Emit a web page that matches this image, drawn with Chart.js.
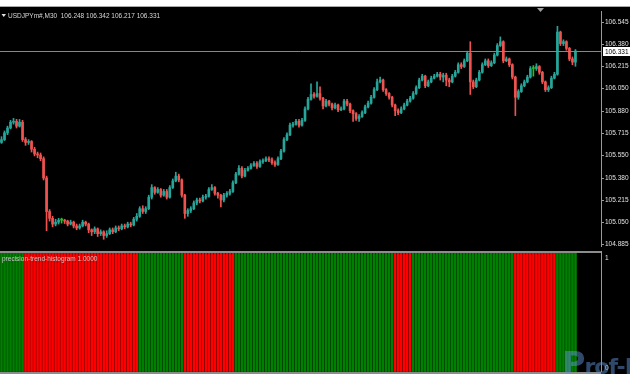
<!DOCTYPE html>
<html>
<head>
<meta charset="utf-8">
<script src="https://cdn.jsdelivr.net/npm/chart.js@4.4.1/dist/chart.umd.min.js"></script>
<style>
  html, body { margin: 0; padding: 0; background: #fff; width: 630px; height: 380px; overflow: hidden; }
  #frame { position: absolute; left: 0; top: 6px; width: 630px; height: 367px; background: #000; border-top: 1px solid #a8a8a8; }
  canvas { position: absolute; left: 0; }
  #priceChart { top: 7px; }
  #histChart { top: 253px; }
  .sep { position: absolute; left: 0; width: 601px; height: 2px; background: #8c8c8c; }
  #axisTail { position: absolute; left: 601px; top: 251px; width: 1px; height: 23px; background: #9a9a9a; }
  #logo { position: absolute; left: 562px; top: 344px; color: rgba(95, 145, 210, 0.5); font: bold 22px "DejaVu Sans", sans-serif; white-space: nowrap; pointer-events: none; letter-spacing: -1px; }
  #logo span { font-size: 32px; }
</style>
</head>
<body>
<div id="frame"></div>
<canvas id="priceChart" width="630" height="244"></canvas>
<div class="sep" style="top:251px"></div>
<canvas id="histChart" width="630" height="119"></canvas>
<div class="sep" style="top:372px"></div>
<div id="axisTail"></div>
<div id="logo"><span>P</span>rof-FX</div>
<script>
const symbol = "USDJPYm#,M30";
const indicatorName = "precision-trend-histogram 1.0000";

// M30 candles, oldest first
const opens = [
  105.647,105.668,105.719,105.755,105.798,105.805,105.769,105.798,105.668,105.647,105.654,105.596,
  105.561,105.553,105.525,105.381,105.130,105.079,105.036,105.050,105.065,105.065,105.058,105.036,
  105.050,105.022,105.007,105.022,105.050,105.036,104.993,104.978,105.000,104.964,104.978,104.950,
  104.964,104.993,104.978,105.007,105.000,105.022,105.015,105.036,105.029,105.072,105.094,105.151,
  105.130,105.151,105.237,105.309,105.273,105.295,105.252,105.280,105.237,105.309,105.359,105.395,
  105.367,105.252,105.115,105.137,105.151,105.194,105.216,105.209,105.237,105.244,105.295,105.309,
  105.266,105.252,105.216,105.252,105.266,105.280,105.345,105.410,105.453,105.395,105.438,105.453,
  105.474,105.489,105.467,105.503,105.510,105.525,105.517,105.496,105.482,105.525,105.582,105.668,
  105.704,105.776,105.783,105.805,105.776,105.812,105.898,105.970,106.006,105.992,106.013,105.978,
  105.920,105.956,105.934,105.906,105.927,105.891,105.898,105.956,105.934,105.884,105.862,105.826,
  105.841,105.870,105.913,105.941,105.985,106.042,106.100,106.114,106.042,106.013,105.985,105.927,
  105.884,105.870,105.898,105.927,105.956,105.978,106.013,106.057,106.114,106.143,106.071,106.100,
  106.128,106.143,106.157,106.136,106.150,106.114,106.100,106.143,106.172,106.229,106.215,106.258,
  106.315,106.100,106.064,106.114,106.172,106.229,106.258,106.222,106.243,106.301,106.372,106.401,
  106.258,106.272,106.229,106.136,105.985,106.028,106.071,106.100,106.136,106.200,106.200,106.215,
  106.172,106.100,106.042,106.057,106.128,106.157,106.473,106.387,106.401,106.351,106.272,106.248
];
const highs = [
  105.690,105.733,105.769,105.812,105.827,105.820,105.819,105.812,105.683,105.668,105.661,105.611,
  105.575,105.568,105.539,105.395,105.144,105.094,105.072,105.079,105.080,105.072,105.065,105.065,
  105.058,105.036,105.036,105.065,105.058,105.043,105.000,105.015,105.007,104.993,104.986,104.986,
  105.007,105.007,105.022,105.022,105.036,105.036,105.050,105.050,105.086,105.115,105.166,105.173,
  105.166,105.252,105.331,105.316,105.309,105.302,105.295,105.295,105.324,105.374,105.424,105.410,
  105.374,105.259,105.151,105.166,105.209,105.230,105.230,105.252,105.259,105.309,105.331,105.316,
  105.273,105.259,105.266,105.280,105.295,105.359,105.424,105.474,105.467,105.453,105.467,105.489,
  105.503,105.503,105.517,105.525,105.539,105.539,105.532,105.510,105.539,105.596,105.683,105.719,
  105.791,105.798,105.820,105.820,105.827,105.913,105.985,106.085,106.021,106.100,106.064,105.985,
  105.970,105.963,105.941,105.941,105.934,105.913,105.970,105.970,105.941,105.891,105.870,105.855,
  105.884,105.927,105.956,106.000,106.057,106.122,106.136,106.122,106.050,106.021,105.992,105.934,
  105.898,105.913,105.941,105.970,105.992,106.028,106.071,106.128,106.157,106.150,106.114,106.143,
  106.157,106.172,106.172,106.165,106.165,106.128,106.157,106.186,106.243,106.243,106.272,106.330,
  106.401,106.114,106.128,106.186,106.243,106.272,106.272,106.258,106.315,106.387,106.437,106.408,
  106.287,106.279,106.236,106.143,106.042,106.086,106.114,106.150,106.215,106.222,106.236,106.222,
  106.179,106.107,106.071,106.143,106.172,106.516,106.480,106.415,106.408,106.358,106.287,106.342
];
const lows = [
  105.640,105.661,105.705,105.748,105.784,105.755,105.762,105.654,105.625,105.632,105.575,105.546,
  105.532,105.510,105.366,104.986,105.058,105.015,105.022,105.036,105.043,105.040,105.022,105.029,
  105.007,104.993,104.998,105.015,105.022,104.971,104.950,104.964,104.943,104.950,104.922,104.936,
  104.957,104.964,104.971,104.986,104.993,105.000,105.007,105.015,105.022,105.058,105.086,105.115,
  105.115,105.144,105.223,105.259,105.266,105.237,105.244,105.223,105.230,105.302,105.352,105.352,
  105.237,105.079,105.094,105.122,105.144,105.180,105.194,105.202,105.223,105.237,105.288,105.252,
  105.230,105.165,105.202,105.237,105.252,105.273,105.338,105.402,105.381,105.388,105.431,105.446,
  105.467,105.453,105.460,105.489,105.503,105.503,105.482,105.467,105.474,105.517,105.575,105.661,
  105.697,105.762,105.776,105.762,105.769,105.805,105.891,105.963,105.978,105.985,105.963,105.898,
  105.913,105.920,105.891,105.898,105.877,105.884,105.891,105.920,105.870,105.805,105.812,105.805,
  105.834,105.862,105.906,105.934,105.978,106.035,106.093,106.028,105.999,105.970,105.913,105.848,
  105.855,105.862,105.891,105.920,105.948,105.970,106.006,106.050,106.107,106.057,106.064,106.093,
  106.122,106.136,106.114,106.100,106.071,106.064,106.093,106.136,106.165,106.200,106.208,106.251,
  106.006,106.050,106.057,106.107,106.165,106.222,106.208,106.215,106.236,106.294,106.365,106.243,
  106.251,106.215,106.122,105.848,105.970,106.021,106.064,106.093,106.128,106.143,106.186,106.157,
  106.086,106.028,106.028,106.050,106.122,106.150,106.372,106.372,106.337,106.258,106.229,106.217
];
const closes = [
  105.668,105.719,105.755,105.798,105.805,105.769,105.798,105.668,105.647,105.654,105.596,105.561,
  105.553,105.525,105.381,105.130,105.079,105.036,105.050,105.065,105.065,105.058,105.036,105.050,
  105.022,105.007,105.022,105.050,105.036,104.993,104.978,105.000,104.964,104.978,104.950,104.964,
  104.993,104.978,105.007,105.000,105.022,105.015,105.036,105.029,105.072,105.094,105.151,105.130,
  105.151,105.237,105.309,105.273,105.295,105.252,105.280,105.237,105.309,105.359,105.395,105.367,
  105.252,105.115,105.137,105.151,105.194,105.216,105.209,105.237,105.244,105.295,105.309,105.266,
  105.252,105.216,105.252,105.266,105.280,105.345,105.410,105.453,105.395,105.438,105.453,105.474,
  105.489,105.467,105.503,105.510,105.525,105.517,105.496,105.482,105.525,105.582,105.668,105.704,
  105.776,105.783,105.805,105.776,105.812,105.898,105.970,106.006,105.992,106.013,105.978,105.920,
  105.956,105.934,105.906,105.927,105.891,105.898,105.956,105.934,105.884,105.862,105.826,105.841,
  105.870,105.913,105.941,105.985,106.042,106.100,106.114,106.042,106.013,105.985,105.927,105.884,
  105.870,105.898,105.927,105.956,105.978,106.013,106.057,106.114,106.143,106.071,106.100,106.128,
  106.143,106.157,106.136,106.150,106.114,106.100,106.143,106.172,106.229,106.215,106.258,106.315,
  106.100,106.064,106.114,106.172,106.229,106.258,106.222,106.243,106.301,106.372,106.401,106.258,
  106.272,106.229,106.136,105.985,106.028,106.071,106.100,106.136,106.200,106.200,106.215,106.172,
  106.100,106.042,106.057,106.128,106.157,106.473,106.387,106.401,106.351,106.272,106.248,106.331
];

// indicator state per bar: 1 = up (green), 0 = down (red)
const trendUp = [
  1,1,1,1,1,1,1,1,0,0,0,0, 0,0,0,0,0,0,0,0,0,0,0,0, 0,0,0,0,0,0,0,0,0,0,0,0,
  0,0,0,0,0,0,0,0,0,0,1,1, 1,1,1,1,1,1,1,1,1,1,1,1, 1,0,0,0,0,0,0,0,0,0,0,0,
  0,0,0,0,0,0,1,1,1,1,1,1, 1,1,1,1,1,1,1,1,1,1,1,1, 1,1,1,1,1,1,1,1,1,1,1,1,
  1,1,1,1,1,1,1,1,1,1,1,1, 1,1,1,1,1,1,1,1,1,1,1,0, 0,0,0,0,0,1,1,1,1,1,1,1,
  1,1,1,1,1,1,1,1,1,1,1,1, 1,1,1,1,1,1,1,1,1,1,1,1, 1,1,1,0,0,0,0,0,0,0,0,0,
  0,0,0,0,0,1,1,1,1,1,1,1
];

const priceTicks = [106.545, 106.380, 106.215, 106.050, 105.880, 105.715, 105.550, 105.380, 105.215, 105.050, 104.885];
const priceMin = 104.871;
const priceMax = 106.624;
const barSlots = 200; // includes the empty shift area on the right

const slotLabels = Array.from({ length: barSlots }, (_, i) => i);
const fontFamily = '"Liberation Sans", Arial, sans-serif';
const smallFont = '6.5px ' + fontFamily;

const candleColor = closes.map((c, i) =>
  c > opens[i] ? "#26a69a" : c < opens[i] ? "#ef5350" : "#22c322"
);

const mtOverlay = {
  id: "mtOverlay",
  afterDatasetsDraw(chart) {
    const { ctx, chartArea, scales } = chart;
    const last = closes.length - 1;
    const y = Math.round(scales.y.getPixelForValue(closes[last])) + 0.5;
    ctx.save();
    // last price line + label
    ctx.strokeStyle = "#7c8a98";
    ctx.lineWidth = 1;
    ctx.beginPath();
    ctx.moveTo(chartArea.left, y);
    ctx.lineTo(chartArea.right, y);
    ctx.stroke();
    ctx.fillStyle = "#ffffff";
    ctx.fillRect(chartArea.right + 2, y - 4.5, 28, 9);
    ctx.fillStyle = "#000";
    ctx.font = smallFont;
    ctx.textBaseline = "middle";
    ctx.fillText(closes[last].toFixed(3), chartArea.right + 4, y + 0.5);
    // header
    ctx.fillStyle = "#e0e0e0";
    ctx.beginPath();
    ctx.moveTo(1.5, 7); ctx.lineTo(6, 7); ctx.lineTo(3.75, 10); ctx.closePath();
    ctx.fill();
    const ohlc = [opens[last], highs[last], lows[last], closes[last]].map(v => v.toFixed(3)).join(" ");
    ctx.fillStyle = "#d8d8d8";
    ctx.fillText(symbol + "  " + ohlc, 8, 9);
    // chart shift marker
    ctx.fillStyle = "#a0a0a0";
    ctx.beginPath();
    ctx.moveTo(537, 1); ctx.lineTo(544, 1); ctx.lineTo(540.5, 5); ctx.closePath();
    ctx.fill();
    ctx.restore();
  }
};

new Chart(document.getElementById("priceChart"), {
  type: "bar",
  data: {
    labels: slotLabels,
    datasets: [
      {
        label: "wick",
        data: lows.map((l, i) => [l, highs[i]]),
        backgroundColor: candleColor,
        barThickness: 1,
        grouped: false,
        order: 2
      },
      {
        label: "body",
        data: opens.map((o, i) => [o, closes[i]]),
        backgroundColor: candleColor,
        barThickness: 2,
        minBarLength: 1,
        grouped: false,
        order: 1
      }
    ]
  },
  options: {
    responsive: false,
    animation: false,
    devicePixelRatio: 1,
    layout: { padding: 0 },
    plugins: { legend: { display: false }, tooltip: { enabled: false } },
    scales: {
      x: { display: false },
      y: {
        position: "right",
        min: priceMin,
        max: priceMax,
        afterBuildTicks: (scale) => { scale.ticks = priceTicks.map(v => ({ value: v })); },
        afterFit: (scale) => { scale.width = 29; },
        grid: { drawOnChartArea: false, drawTicks: true, tickLength: 3, color: "#9a9a9a" },
        border: { display: true, color: "#9a9a9a" },
        ticks: {
          color: "#e0e0e0",
          padding: 1,
          font: { family: fontFamily, size: 6.5 },
          callback: (v) => Number(v).toFixed(3)
        }
      }
    }
  },
  plugins: [mtOverlay]
});

const histOverlay = {
  id: "histOverlay",
  afterDraw(chart) {
    const { ctx, chartArea, scales } = chart;
    ctx.save();
    ctx.font = smallFont;
    ctx.textBaseline = "middle";
    ctx.fillStyle = "#c8c8c8";
    ctx.fillText(indicatorName, 2, 6);
    ctx.fillStyle = "#e0e0e0";
    ctx.fillText("1", chartArea.right + 4, scales.y.getPixelForValue(1) + 5);
    ctx.fillText("0", chartArea.right + 4, scales.y.getPixelForValue(0) - 4);
    ctx.restore();
  }
};

new Chart(document.getElementById("histChart"), {
  type: "bar",
  data: {
    labels: slotLabels,
    datasets: [
      {
        label: "up",
        data: trendUp.map(t => (t ? 1 : 0)),
        backgroundColor: "#008000",
        barThickness: 2,
        grouped: false
      },
      {
        label: "down",
        data: trendUp.map(t => (t ? 0 : 1)),
        backgroundColor: "#ff0000",
        barThickness: 2,
        grouped: false
      }
    ]
  },
  options: {
    responsive: false,
    animation: false,
    devicePixelRatio: 1,
    layout: { padding: 0 },
    plugins: { legend: { display: false }, tooltip: { enabled: false } },
    scales: {
      x: { display: false },
      y: {
        position: "right",
        min: 0,
        max: 1,
        afterFit: (scale) => { scale.width = 29; },
        grid: { drawOnChartArea: false, drawTicks: false },
        border: { display: true, color: "#9a9a9a" },
        ticks: { display: false }
      }
    }
  },
  plugins: [histOverlay]
});
</script>
</body>
</html>
